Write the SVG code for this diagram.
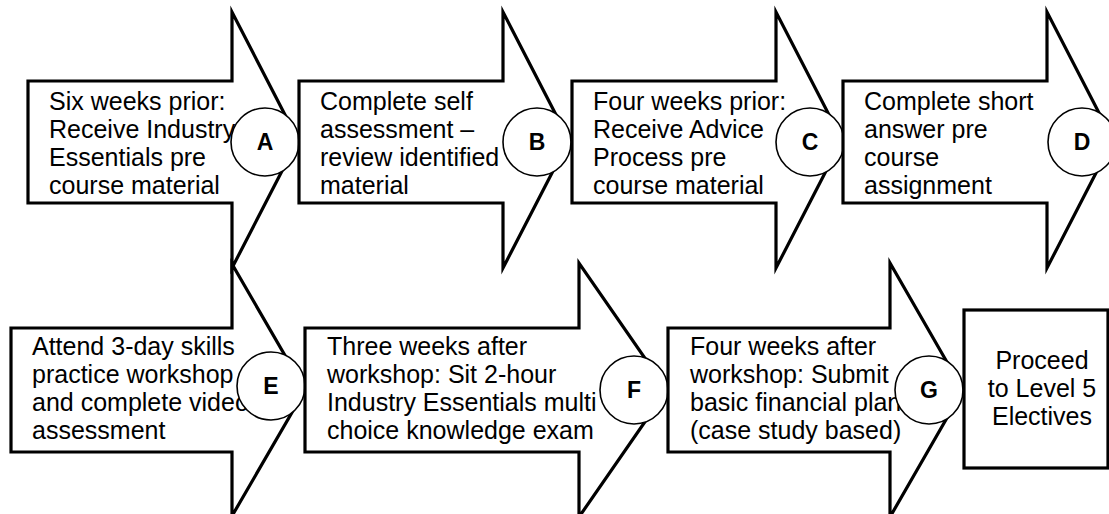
<svg xmlns="http://www.w3.org/2000/svg" width="1109" height="514" viewBox="0 0 1109 514">
<style>
.arrow{fill:#fff;stroke:#000;stroke-width:3.2;stroke-linejoin:miter;stroke-miterlimit:10}
.txt{font-family:"Liberation Sans",Arial,Helvetica,sans-serif;font-size:25px;fill:#000}
.mid{text-anchor:middle}
.badge{fill:#fff;stroke:#000;stroke-width:1.6}
.lbl{font-family:"Liberation Sans",Arial,Helvetica,sans-serif;font-size:23px;font-weight:bold;text-anchor:middle;fill:#000}
</style>
<defs>
<path id="arrowTop" d="M28,81 H232 V12 L298,140 L232,268 V203 H28 Z"/>
</defs>
<rect width="1109" height="514" fill="#fff"/>

<g id="node-A">
<use href="#arrowTop" class="arrow"/>
<text class="txt" x="49" y="110">Six weeks prior:</text>
<text class="txt" x="49" y="138">Receive Industry</text>
<text class="txt" x="49" y="166">Essentials pre</text>
<text class="txt" x="49" y="194">course material</text>
<circle class="badge" cx="265" cy="142" r="34"/>
<text class="lbl" x="265" y="150">A</text>
</g>

<g id="node-B">
<use href="#arrowTop" class="arrow" transform="translate(271,0)"/>
<text class="txt" x="320" y="110">Complete self</text>
<text class="txt" x="320" y="138">assessment –</text>
<text class="txt" x="320" y="166">review identified</text>
<text class="txt" x="320" y="194">material</text>
<circle class="badge" cx="537" cy="142" r="34"/>
<text class="lbl" x="537" y="150">B</text>
</g>

<g id="node-C">
<use href="#arrowTop" class="arrow" transform="translate(544,0)"/>
<text class="txt" x="593" y="110">Four weeks prior:</text>
<text class="txt" x="593" y="138">Receive Advice</text>
<text class="txt" x="593" y="166">Process pre</text>
<text class="txt" x="593" y="194">course material</text>
<circle class="badge" cx="810" cy="142" r="34"/>
<text class="lbl" x="810" y="150">C</text>
</g>

<g id="node-D">
<use href="#arrowTop" class="arrow" transform="translate(815,0)"/>
<text class="txt" x="864" y="110">Complete short</text>
<text class="txt" x="864" y="138">answer pre</text>
<text class="txt" x="864" y="166">course</text>
<text class="txt" x="864" y="194">assignment</text>
<circle class="badge" cx="1082" cy="142" r="34"/>
<text class="lbl" x="1082" y="150">D</text>
</g>

<g id="node-E">
<path class="arrow" d="M11,328 H232 V264 L305,390 L232,516 V452 H11 Z"/>
<text class="txt" x="32" y="355">Attend 3-day skills</text>
<text class="txt" x="32" y="383">practice workshop</text>
<text class="txt" x="32" y="411">and complete video</text>
<text class="txt" x="32" y="439">assessment</text>
<circle class="badge" cx="271" cy="386" r="34"/>
<text class="lbl" x="271" y="394">E</text>
</g>

<g id="node-F">
<path class="arrow" d="M305,328 H579 V263 L667,390 L579,517 V452 H305 Z"/>
<text class="txt" x="327" y="355">Three weeks after</text>
<text class="txt" x="327" y="383">workshop: Sit 2-hour</text>
<text class="txt" x="327" y="411">Industry Essentials multi</text>
<text class="txt" x="327" y="439">choice knowledge exam</text>
<circle class="badge" cx="634" cy="390" r="34"/>
<text class="lbl" x="634" y="398">F</text>
</g>

<g id="node-G">
<path class="arrow" d="M668,328 H890 V263 L963,390 L890,517 V452 H668 Z"/>
<text class="txt" x="690" y="355">Four weeks after</text>
<text class="txt" x="690" y="383">workshop: Submit</text>
<text class="txt" x="690" y="411">basic financial plan</text>
<text class="txt" x="690" y="439">(case study based)</text>
<circle class="badge" cx="929" cy="390" r="34"/>
<text class="lbl" x="929" y="398">G</text>
</g>

<g id="node-end">
<rect class="arrow" x="964" y="310" width="144" height="158"/>
<text class="txt mid" x="1042" y="369">Proceed</text>
<text class="txt mid" x="1042" y="397">to Level 5</text>
<text class="txt mid" x="1042" y="425">Electives</text>
</g>

<g id="connectors"/>
</svg>
